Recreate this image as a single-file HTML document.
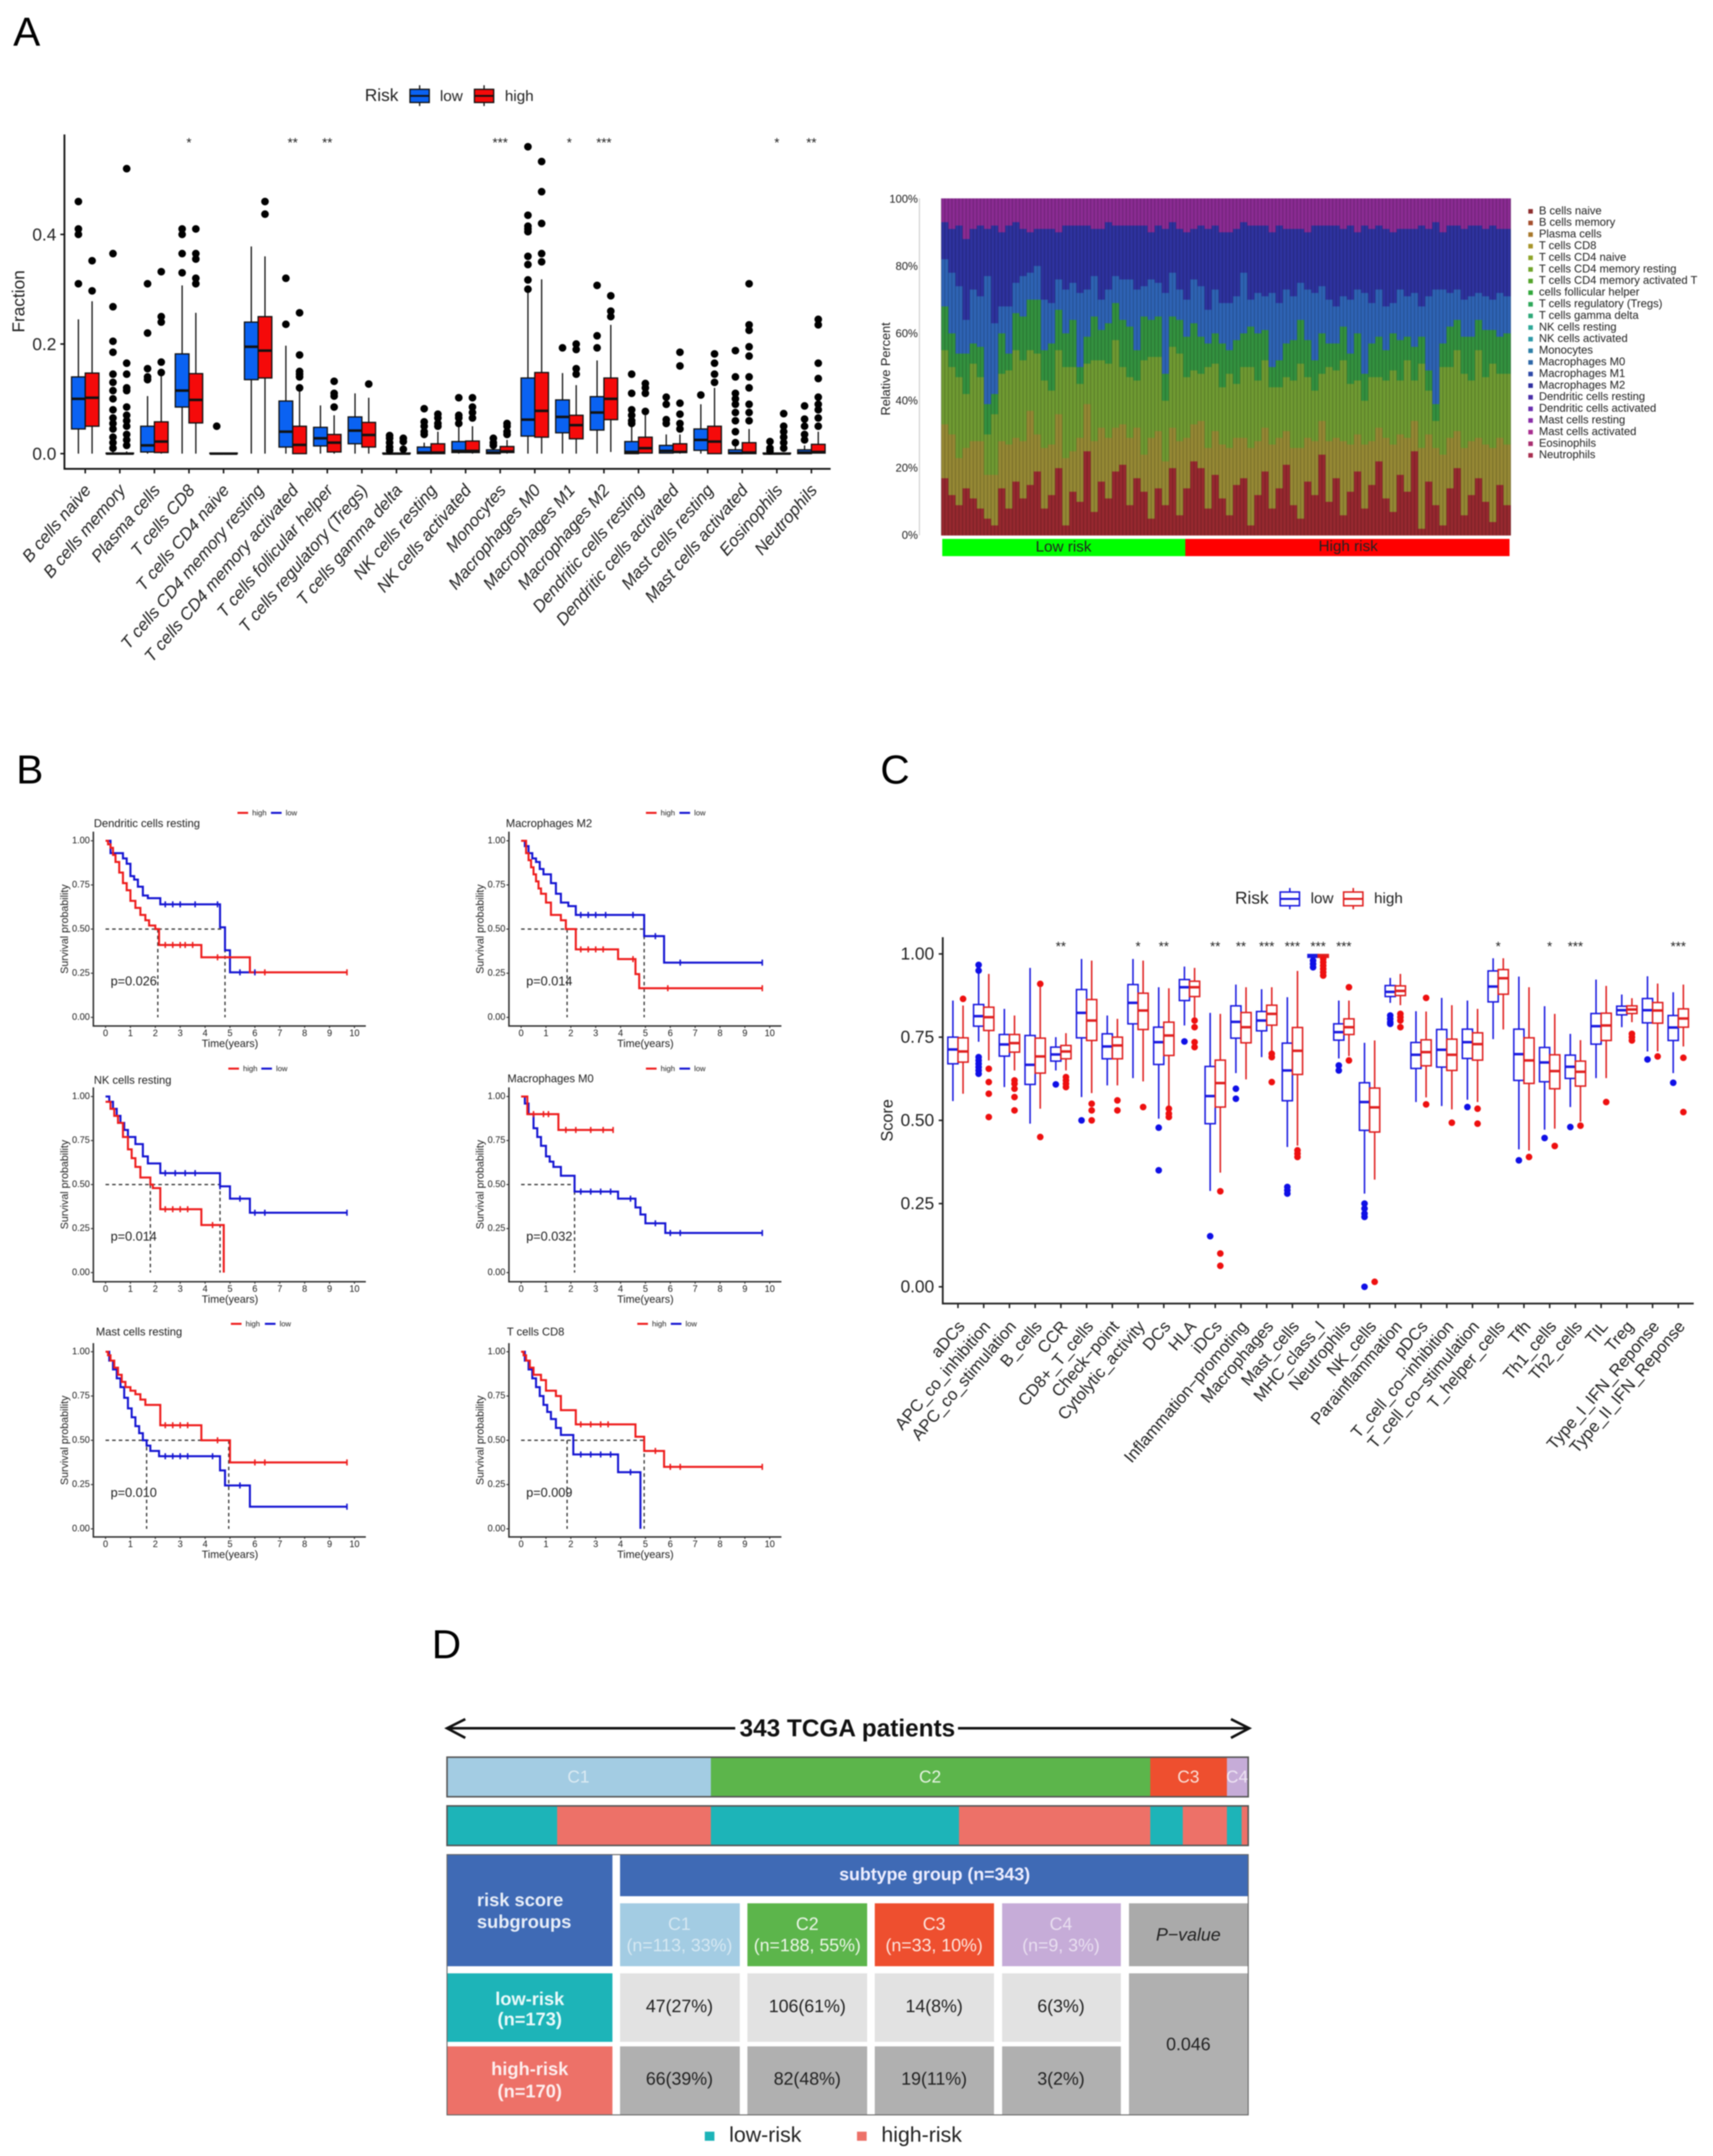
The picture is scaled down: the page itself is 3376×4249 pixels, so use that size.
<!DOCTYPE html>
<html lang="en">
<head>
<meta charset="utf-8">
<title>Immune infiltration and risk score figure</title>
<style>
html,body{margin:0;padding:0;background:#fff;}
#root{display:block;filter:blur(1.1px);}
text{font-family:"Liberation Sans",sans-serif;fill:#222;}
</style>
</head>
<body>
<svg id="root" xmlns="http://www.w3.org/2000/svg" width="3376" height="4249" viewBox="0 0 3376 4249">
<rect x="0" y="0" width="3376" height="4249" fill="#fff"/>
<text x="26" y="90" font-size="80" style="fill:#000">A</text>
<text x="32" y="1544" font-size="80" style="fill:#000">B</text>
<text x="1735" y="1544" font-size="80" style="fill:#000">C</text>
<text x="851" y="3268" font-size="80" style="fill:#000">D</text>

<g id="panelA"></g>
<g id="panelStack"></g>
<g id="panelB"></g>
<g id="panelC"></g>

<g id="panelD">
  <g fill="none" stroke="#111" stroke-width="5">
    <path d="M917 3388 L881 3406 L917 3425 M881 3406 L1449 3406"/>
    <path d="M2426 3388 L2462 3406 L2426 3425 M2462 3406 L1888 3406"/>
  </g>
  <text x="1670" y="3422" font-size="48" font-weight="bold" text-anchor="middle" style="fill:#111">343 TCGA patients</text>

  <g>
    <rect x="881" y="3463" width="520" height="78" fill="#a3cce3"/>
    <rect x="1401" y="3463" width="866" height="78" fill="#5cb54b"/>
    <rect x="2267" y="3463" width="151" height="78" fill="#ee4f2f"/>
    <rect x="2418" y="3463" width="42" height="78" fill="#c6acd8"/>
    <rect x="881" y="3463" width="1579" height="78" fill="none" stroke="#555" stroke-width="3"/>
    <g font-size="34" text-anchor="middle" dominant-baseline="middle">
      <text x="1140" y="3504" style="fill:#dcebf3">C1</text>
      <text x="1833" y="3504" style="fill:#e6f3e2">C2</text>
      <text x="2342" y="3504" style="fill:#fbe0d8">C3</text>
      <text x="2438" y="3504" style="fill:#eee4f3">C4</text>
    </g>
  </g>

  <g>
    <rect x="881" y="3559" width="217" height="78" fill="#1db4b8"/>
    <rect x="1098" y="3559" width="303" height="78" fill="#ed7168"/>
    <rect x="1401" y="3559" width="489" height="78" fill="#1db4b8"/>
    <rect x="1890" y="3559" width="377" height="78" fill="#ed7168"/>
    <rect x="2267" y="3559" width="64" height="78" fill="#1db4b8"/>
    <rect x="2331" y="3559" width="87" height="78" fill="#ed7168"/>
    <rect x="2418" y="3559" width="29" height="78" fill="#1db4b8"/>
    <rect x="2447" y="3559" width="13" height="78" fill="#ed7168"/>
    <rect x="881" y="3559" width="1579" height="78" fill="none" stroke="#555" stroke-width="3"/>
  </g>

  <g>
    <rect x="881" y="3655" width="326" height="220" fill="#3f6ab5"/>
    <rect x="1222" y="3655" width="1238" height="82" fill="#3f6ab5"/>
    <rect x="1222" y="3751" width="236" height="124" fill="#a3cce3"/>
    <rect x="1473" y="3751" width="236" height="124" fill="#5cb54b"/>
    <rect x="1724" y="3751" width="235" height="124" fill="#ee4f2f"/>
    <rect x="1975" y="3751" width="234" height="124" fill="#c6acd8"/>
    <rect x="2225" y="3751" width="235" height="124" fill="#aaaaaa"/>
    <rect x="881" y="3889" width="326" height="135" fill="#1db4b8"/>
    <rect x="881" y="4033" width="326" height="135" fill="#ed7168"/>
    <rect x="1222" y="3889" width="236" height="135" fill="#e2e2e2"/>
    <rect x="1473" y="3889" width="236" height="135" fill="#e2e2e2"/>
    <rect x="1724" y="3889" width="235" height="135" fill="#e2e2e2"/>
    <rect x="1975" y="3889" width="234" height="135" fill="#e2e2e2"/>
    <rect x="1222" y="4033" width="236" height="135" fill="#b0b0b0"/>
    <rect x="1473" y="4033" width="236" height="135" fill="#b0b0b0"/>
    <rect x="1724" y="4033" width="235" height="135" fill="#b0b0b0"/>
    <rect x="1975" y="4033" width="234" height="135" fill="#b0b0b0"/>
    <rect x="2225" y="3889" width="235" height="279" fill="#b0b0b0"/>
    <path d="M881 3655 H2460 V4168 H881 Z" fill="none" stroke="#666" stroke-width="2"/>

    <text x="1842" y="3696" font-size="35" font-weight="bold" text-anchor="middle" dominant-baseline="middle" style="fill:#eef">subtype group (n=343)</text>
    <text x="940" y="3747" font-size="36" font-weight="bold" dominant-baseline="middle" style="fill:#e8eef8">risk score</text>
    <text x="940" y="3790" font-size="36" font-weight="bold" dominant-baseline="middle" style="fill:#e8eef8">subgroups</text>

    <g font-size="35" text-anchor="middle" dominant-baseline="middle">
      <text x="1339" y="3794" style="fill:#d6e8f2">C1</text>
      <text x="1339" y="3836" style="fill:#d6e8f2">(n=113, 33%)</text>
      <text x="1591" y="3794" style="fill:#ecf6e8">C2</text>
      <text x="1591" y="3836" style="fill:#ecf6e8">(n=188, 55%)</text>
      <text x="1841" y="3794" style="fill:#fde6df">C3</text>
      <text x="1841" y="3836" style="fill:#fde6df">(n=33, 10%)</text>
      <text x="2091" y="3794" style="fill:#e9dff0">C4</text>
      <text x="2091" y="3836" style="fill:#e9dff0">(n=9, 3%)</text>
      <text x="2342" y="3815" font-style="italic" style="fill:#222">P−value</text>
    </g>
    <g font-size="36" font-weight="bold" text-anchor="middle" dominant-baseline="middle" style="fill:#fff">
      <text x="1044" y="3942" style="fill:#eafafa">low-risk</text>
      <text x="1044" y="3982" style="fill:#eafafa">(n=173)</text>
      <text x="1044" y="4080" style="fill:#fdeeee">high-risk</text>
      <text x="1044" y="4124" style="fill:#fdeeee">(n=170)</text>
    </g>
    <g font-size="35" text-anchor="middle" dominant-baseline="middle">
      <text x="1339" y="3956">47(27%)</text>
      <text x="1591" y="3956">106(61%)</text>
      <text x="1841" y="3956">14(8%)</text>
      <text x="2091" y="3956">6(3%)</text>
      <text x="1339" y="4099">66(39%)</text>
      <text x="1591" y="4099">82(48%)</text>
      <text x="1841" y="4099">19(11%)</text>
      <text x="2091" y="4099">3(2%)</text>
      <text x="2342" y="4031">0.046</text>
    </g>
  </g>

  <g>
    <rect x="1389" y="4201" width="19" height="18" fill="#1db4b8"/>
    <text x="1437" y="4210" font-size="42" dominant-baseline="middle">low-risk</text>
    <rect x="1689" y="4201" width="19" height="18" fill="#ed7168"/>
    <text x="1737" y="4210" font-size="42" dominant-baseline="middle">high-risk</text>
  </g>
</g>
</svg>

<script>
/* ---------- Panel A data ---------- */
const aCategories = ["B cells naive","B cells memory","Plasma cells","T cells CD8","T cells CD4 naive","T cells CD4 memory resting","T cells CD4 memory activated","T cells follicular helper","T cells regulatory (Tregs)","T cells gamma delta","NK cells resting","NK cells activated","Monocytes","Macrophages M0","Macrophages M1","Macrophages M2","Dendritic cells resting","Dendritic cells activated","Mast cells resting","Mast cells activated","Eosinophils","Neutrophils"];
const aTicks = [0, 0.2, 0.4];
/* [lower whisker, q1, median, q3, upper whisker] */
const aLowStats = [[0,.045,.10,.14,.245],[0,0,0,.001,.004],[0,.003,.015,.05,.105],[0,.085,.115,.182,.307],[0,0,0,.001,.001],[0,.135,.195,.24,.378],[0,.012,.04,.096,.197],[0,.014,.028,.048,.088],[0,.018,.042,.067,.11],[0,0,0,.001,.002],[0,0,.002,.012,.02],[0,.002,.005,.022,.05],[0,0,.002,.007,.012],[0,.032,.062,.138,.295],[0,.038,.067,.098,.147],[0,.043,.075,.104,.17],[0,0,.003,.022,.05],[0,.001,.005,.015,.035],[0,.006,.025,.045,.09],[0,0,.001,.007,.015],[0,0,0,.001,.002],[0,0,.002,.007,.015]];
const aHighStats = [[0,.05,.102,.147,.278],[0,0,0,.001,.004],[0,.002,.022,.058,.145],[0,.056,.098,.146,.257],[0,0,0,.001,.001],[0,.138,.188,.25,.36],[0,0,.016,.05,.12],[0,.003,.02,.035,.07],[0,.012,.034,.057,.102],[0,0,0,.001,.002],[0,0,.002,.018,.04],[0,.002,.005,.023,.05],[0,.002,.004,.013,.025],[0,.03,.078,.148,.318],[0,.027,.052,.07,.125],[.003,.062,.10,.138,.235],[0,.001,.01,.03,.07],[0,.002,.003,.018,.035],[0,0,.022,.05,.12],[0,0,.002,.02,.045],[0,0,0,.001,.002],[0,.001,.003,.017,.04]];
const aLowOutliers = [[.31,.40,.41,.46],[.365,.268,.205,.185,.145,.13,.115,.10,.08,.065,.055,.045,.03,.02,.01],[.31,.22,.155,.14,.135],[.41,.40,.365,.33],[.05],[],[.32,.236],[],[],[.033,.028,.02,.012,.006],[.082,.058,.05,.04,.035],[.102,.07,.065,.055],[.028,.02,.015],[.56,.435,.415,.41,.405,.36,.345,.317,.30],[.193],[.307,.215,.193],[.145,.11,.08,.07,.06,.055],[.103,.09,.062,.055],[.107],[.188,.14,.11,.1,.09,.075,.06,.04,.02],[.022,.01,.005],[.087,.063,.05,.035,.025]];
const aHighOutliers = [[.297,.352],[.52,.165,.145,.12,.115,.085,.07,.06,.05,.035,.025,.015],[.332,.25,.24,.167,.148],[.41,.365,.355,.32,.31],[],[.46,.437],[.257,.18,.15,.145,.14,.12],[.132,.11,.105,.085],[.127],[.028,.022,.008],[.072,.065,.055,.05],[.102,.085,.075,.065],[.055,.05,.04,.035],[.533,.478,.42,.365,.35],[.2,.19,.155,.145],[.288,.26,.25],[.128,.12,.11,.077],[.185,.16,.092,.072,.055,.045],[.182,.165,.145,.13],[.31,.235,.225,.195,.178,.14,.12,.09,.075,.06],[.073,.05,.04,.03,.02,.01],[.245,.235,.165,.137,.103,.09,.08,.065,.05]];
const aStars = ["","","","*","","","**","**","","","","","***","","*","***","","","","","*","**"];

/* ---------- Stacked bar data (percent per band, one entry per bar) ---------- */
const stackTicks = [0,20,40,60,80,100];
const stackLegend = ["B cells naive","B cells memory","Plasma cells","T cells CD8","T cells CD4 naive","T cells CD4 memory resting","T cells CD4 memory activated T","cells follicular helper","T cells regulatory (Tregs)","T cells gamma delta","NK cells resting","NK cells activated","Monocytes","Macrophages M0","Macrophages M1","Macrophages M2","Dendritic cells resting","Dendritic cells activated","Mast cells resting","Mast cells activated","Eosinophils","Neutrophils"];
const stackRed = [17,12,9,14,11,8,5,3,14,8,16,11,15,19,8,12,20,3,13,10,25,7,16,11,19,21,9,17,13,5,14,9,20,6,14,22,20,8,18,11,6,15,17,3,12,19,8,14,21,9,5,16,12,24,10,17,6,13,19,8,15,22,11,7,18,13,25,2,16,9,3,14,20,6,12,17,10,4,15,9];
const stackOlive = [16,18,14,12,17,20,13,15,14,19,13,17,22,11,18,15,16,20,12,19,14,21,16,18,13,12,20,15,11,24,17,13,12,22,15,11,14,18,13,16,20,14,12,23,16,13,19,15,10,17,21,13,16,10,18,12,22,14,11,19,13,10,18,20,12,16,9,24,14,17,21,15,11,20,16,12,17,22,14,18];
const stackLime = [22,20,24,16,23,19,12,18,20,22,26,24,18,24,20,16,19,27,25,16,12,24,20,22,26,17,18,14,28,24,22,18,24,26,18,16,14,24,20,17,22,16,21,24,18,20,17,15,16,20,25,18,15,14,22,20,24,18,16,13,19,15,17,22,16,23,12,25,13,8,26,21,24,22,18,26,20,25,19,21];
const stackGreen = [13,10,7,12,6,9,9,6,12,5,11,13,15,16,9,14,12,10,14,5,8,13,9,12,11,14,15,9,13,11,12,8,9,10,12,14,11,7,9,13,7,13,10,12,14,9,6,8,10,12,13,11,9,12,7,8,10,9,14,8,10,12,9,11,12,7,10,8,6,5,7,12,9,11,13,9,14,10,11,12];
const stackBlue = [14,18,20,10,16,15,38,21,8,14,9,12,8,10,15,12,9,13,11,22,14,12,9,10,8,12,14,18,9,12,10,24,13,9,11,13,15,10,13,12,14,13,18,8,12,10,22,17,16,13,11,15,20,14,13,11,9,16,13,24,12,14,13,9,15,12,16,9,22,34,16,10,9,11,12,8,10,9,13,11];
const stackNavy = [11,13,18,24,18,21,14,29,22,24,18,14,12,11,21,22,14,19,17,20,19,14,21,20,15,16,16,19,18,14,17,19,15,18,20,15,18,24,19,21,21,20,15,22,20,21,18,23,18,20,16,17,20,18,22,24,20,22,17,20,22,19,23,21,18,20,19,24,20,20,17,20,19,21,21,20,20,22,19,20];

/* ---------- Panel B data: [time, survival] ---------- */
const dcHigh = [[0,1],[.1,.98],[.2,.96],[.3,.92],[.4,.88],[.55,.82],[.7,.76],[.85,.72],[1,.66],[1.2,.62],[1.4,.58],[1.6,.55],[1.75,.52],[2,.50],[2.15,.41],[3.85,.34],[5.8,.255],[9.7,.255]];
const dcLow = [[0,1],[.2,.93],[.7,.9],[.85,.87],[1,.8],[1.15,.78],[1.3,.74],[1.5,.69],[1.7,.675],[2.2,.64],[4.6,.51],[4.8,.38],[5,.255],[6,.255]];
const m2High = [[0,1],[.2,.93],[.3,.89],[.4,.85],[.5,.81],[.6,.77],[.7,.73],[.8,.70],[1,.65],[1.2,.58],[1.6,.55],[1.8,.5],[2.2,.385],[3.9,.33],[4.6,.245],[4.75,.165],[9.7,.165]];
const m2Low = [[0,1],[.15,.97],[.3,.93],[.45,.9],[.6,.88],[.75,.84],[.9,.81],[1.2,.76],[1.4,.7],[1.6,.65],[1.9,.63],[2.2,.58],[4.95,.46],[5.75,.31],[9.7,.31]];
const nkHigh = [[0,.97],[.2,.93],[.35,.89],[.5,.85],[.7,.77],[.9,.7],[1.05,.65],[1.2,.6],[1.4,.54],[1.8,.5],[1.9,.48],[2.2,.36],[3.85,.27],[4.75,0]];
const nkLow = [[0,1],[.15,.97],[.3,.93],[.45,.89],[.6,.85],[.75,.81],[.9,.77],[1.2,.73],[1.5,.66],[1.7,.62],[2.2,.565],[4.6,.49],[5,.42],[5.8,.34],[9.7,.34]];
const m0High = [[0,1],[.25,.9],[1.5,.81],[3.7,.81]];
const m0Low = [[0,1],[.15,.96],[.3,.9],[.5,.82],[.65,.77],[.8,.72],[1,.66],[1.15,.63],[1.3,.6],[1.6,.55],[2.15,.46],[3.9,.42],[4.6,.37],[4.8,.33],[5,.28],[5.8,.225],[9.7,.225]];
const mastHigh = [[0,1],[.1,.98],[.2,.95],[.35,.91],[.5,.87],[.65,.83],[.8,.8],[1,.78],[1.2,.76],[1.4,.73],[1.6,.7],[2.2,.585],[3.85,.5],[5,.375],[9.7,.375]];
const mastLow = [[0,1],[.15,.95],[.3,.9],[.45,.85],[.6,.8],[.75,.74],[.9,.68],[1.05,.63],[1.2,.58],[1.35,.54],[1.5,.5],[1.65,.47],[1.8,.44],[2.15,.41],[4.6,.33],[4.8,.245],[5.8,.125],[9.7,.125]];
const cd8High = [[0,1],[.1,.98],[.2,.95],[.35,.91],[.5,.87],[.8,.84],[1,.78],[1.4,.75],[1.6,.67],[2.2,.59],[4.6,.52],[4.95,.44],[5.75,.35],[9.7,.35]];
const cd8Low = [[0,1],[.15,.95],[.3,.9],[.45,.85],[.6,.8],[.75,.75],[.9,.7],[1.05,.66],[1.2,.62],[1.4,.57],[1.6,.53],[2.1,.42],[3.9,.32],[4.8,0]];
const kmTitles = ["Dendritic cells resting","Macrophages M2","NK cells resting","Macrophages M0","Mast cells resting","T cells CD8"];
const kmPvalues = ["p=0.026","p=0.014","p=0.014","p=0.032","p=0.010","p=0.009"];
const kmHighSeries = [dcHigh,m2High,nkHigh,m0High,mastHigh,cd8High];
const kmLowSeries = [dcLow,m2Low,nkLow,m0Low,mastLow,cd8Low];
const kmMedians = [[2.1,4.8],[1.85,4.95],[1.8,4.6],[2.15],[1.65,4.95],[1.85,4.95]];
const kmHighCensor = [[2.4,2.7,3,3.2,3.5,4.5,6.4,9.7],[2.4,2.7,3,3.3,4.5,5.9,9.7],[2.4,2.7,3,3.3,4.3],[.5,.9,1.1,1.8,2.2,2.8,3.3,3.7],[2.4,2.7,3,3.3,4.5,6,6.4,9.7],[2.4,2.8,3.2,3.5,5.4,6,6.4,9.7]];
const kmLowCensor = [[2.4,2.7,3,3.6,4.5,5.4,6],[2.4,2.7,3,3.4,4.5,5.4,6.4,9.7],[2.4,2.8,3.2,3.6,4.6,5.4,6,6.4,9.7],[2.4,2.8,3.2,3.6,4.4,5.4,6,6.4,9.7],[2.4,2.7,3,3.3,4.3,5.4,9.7],[2.4,2.8,3.2,3.6,4.4]];
const kmXTicks = [0,1,2,3,4,5,6,7,8,9,10];
const kmYTicks = [0,.25,.5,.75,1];

/* ---------- Panel C data ---------- */
const cCategories = ["aDCs","APC_co_inhibition","APC_co_stimulation","B_cells","CCR","CD8+_T_cells","Check-point","Cytolytic_activity","DCs","HLA","iDCs","Inflammation-promoting","Macrophages","Mast_cells","MHC_class_I","Neutrophils","NK_cells","Parainflammation","pDCs","T_cell_co-inhibition","T_cell_co-stimulation","T_helper_cells","Tfh","Th1_cells","Th2_cells","TIL","Treg","Type_I_IFN_Reponse","Type_II_IFN_Reponse"];
const cTicks = [0,.25,.5,.75,1];
const cLowStats = [[.558,.67,.713,.75,.86],[.736,.783,.813,.848,.955],[.6,.693,.728,.758,.835],[.49,.608,.667,.755,.958],[.65,.678,.698,.72,.75],[.57,.748,.823,.893,.985],[.605,.685,.722,.76,.815],[.627,.79,.853,.908,.985],[.505,.668,.735,.78,.90],[.785,.86,.90,.923,.962],[.288,.49,.573,.662,.823],[.642,.747,.796,.844,.908],[.69,.769,.80,.827,.894],[.42,.559,.65,.732,.87],[.985,.99,.995,.998,1],[.686,.741,.765,.79,.86],[.28,.47,.555,.613,.733],[.853,.872,.886,.905,.928],[.555,.656,.697,.734,.828],[.543,.66,.712,.773,.868],[.562,.686,.735,.774,.86],[.744,.856,.902,.949,.987],[.413,.62,.699,.774,.932],[.472,.616,.674,.719,.843],[.54,.626,.661,.696,.76],[.627,.729,.783,.821,.923],[.78,.817,.831,.843,.878],[.707,.793,.831,.866,.933],[.642,.74,.779,.815,.885]];
const cHighStats = [[.58,.675,.707,.748,.845],[.68,.77,.81,.84,.94],[.65,.705,.732,.758,.815],[.535,.642,.692,.747,.90],[.65,.685,.707,.725,.762],[.582,.74,.80,.863,.98],[.605,.685,.725,.75,.805],[.617,.773,.83,.882,.98],[.545,.695,.755,.795,.897],[.81,.872,.90,.918,.958],[.343,.54,.612,.681,.82],[.623,.733,.78,.824,.90],[.707,.786,.82,.846,.90],[.424,.638,.709,.779,.949],[.985,.99,.995,.998,1],[.693,.758,.78,.805,.86],[.322,.465,.539,.597,.74],[.846,.875,.889,.904,.94],[.569,.664,.705,.742,.827],[.533,.65,.697,.744,.846],[.555,.681,.729,.763,.835],[.773,.879,.927,.953,.987],[.409,.611,.68,.748,.90],[.475,.595,.648,.697,.82],[.496,.603,.646,.678,.741],[.627,.74,.785,.822,.904],[.795,.821,.833,.844,.867],[.707,.792,.83,.854,.911],[.722,.78,.806,.835,.908]];
const cLowOutliers = [[],[.967,.95,.69,.68,.67,.66,.65,.64],[],[],[.608],[.5],[],[],[.478,.35],[.737],[.152],[.595,.565],[],[.3,.29,.28],[.98,.97,.96],[.665,.65],[.25,.235,.22,.21,0],[.815,.805,.795,.79],[],[],[.54],[],[.38],[.447],[.48],[],[],[.683],[.613]];
const cHighOutliers = [[.865],[.655,.615,.58,.51],[.62,.61,.595,.57,.53],[.91,.45],[.63,.62,.61,.60],[.55,.53,.5],[.56,.53],[.54],[.535,.52,.51],[.8,.78,.735,.72],[.287,.1,.063],[],[.70,.69,.615],[.41,.40,.39],[.985,.975,.965,.955,.945,.935],[.9,.68],[.015],[.82,.81,.8,.78],[.868,.548],[.493],[.535,.49],[],[.39],[.423],[.484],[.555],[.76,.75,.74],[.692],[.688,.525]];
const cStars = ["","","","","**","","","*","**","","**","**","***","***","***","***","","","","","","*","","*","***","","","","***"];

/* ---------- Drawing helpers ---------- */
const NS = 'http://www.w3.org/2000/svg';
function el(tag, attrs, parent) {
  const e = document.createElementNS(NS, tag);
  for (const k in attrs) e.setAttribute(k, attrs[k]);
  parent.appendChild(e);
  return e;
}
function txt(parent, x, y, s, size, attrs) {
  const e = el('text', Object.assign({x:x, y:y, 'font-size':size}, attrs || {}), parent);
  e.textContent = s;
  return e;
}
function drawBoxes(g, stats, outliers, xOf, yOf, offset, bw, stroke, fill, medW, boxW, r, ptColor) {
  stats.forEach(function (s, i) {
    const cx = xOf(i) + offset;
    const whisker = el('line', {x1:cx, x2:cx, y1:yOf(s[0]), y2:yOf(s[4]), stroke:stroke, 'stroke-width':boxW}, g);
    
    
    const box = el('rect', {x:cx-bw/2, y:yOf(s[3]), width:bw, height:Math.max(yOf(s[1])-yOf(s[3]),0.5), fill:fill, stroke:stroke, 'stroke-width':boxW}, g);
    
    
    const med = el('line', {x1:cx-bw/2, x2:cx+bw/2, y1:yOf(s[2]), y2:yOf(s[2]), stroke:stroke, 'stroke-width':medW}, g);
    
    
    outliers[i].forEach(function (v) {
      const p = el('circle', {cx:cx, cy:yOf(v), r:r, fill:ptColor}, g);
      
      
    });
  });
}
function drawLegendKey(g, cx, top, bottom, wt, wb, w, fill, stroke, sw) {
  const w1 = el('line', {x1:cx, x2:cx, y1:wt, y2:wb, stroke:stroke, 'stroke-width':sw}, g);
  
  
  const r1 = el('rect', {x:cx-w/2, y:top, width:w, height:bottom-top, fill:fill, stroke:stroke, 'stroke-width':sw}, g);
  
  
  const m1 = el('line', {x1:cx-w/2, x2:cx+w/2, y1:(top+bottom)/2, y2:(top+bottom)/2, stroke:stroke, 'stroke-width':sw+1}, g);
  
  
}

/* ---------- Panel A ---------- */
(function () {
  const g = document.getElementById('panelA');
  const xOf = function (i) { return 168 + i * 68.15; };
  const yOf = function (v) { return 894 - v * 1080; };
  drawBoxes(g, aLowStats, aLowOutliers, xOf, yOf, -13.5, 27, '#111', '#0a62f2', 5, 2.5, 7.5, '#000');
  drawBoxes(g, aHighStats, aHighOutliers, xOf, yOf, 13.5, 27, '#111', '#f50a0a', 5, 2.5, 7.5, '#000');
  const axis = el('path', {d:'M127 265 V924 H1637', fill:'none', stroke:'#111', 'stroke-width':3.5}, g);
  
  
  aTicks.forEach(function (t) {
    const m = el('line', {x1:119, x2:127, y1:yOf(t), y2:yOf(t), stroke:'#111', 'stroke-width':3}, g);
    
    
    const l = txt(g, 111, yOf(t) + 3, t.toFixed(1), 34, {'text-anchor':'end','dominant-baseline':'middle'});
    
    
  });
  aCategories.forEach(function (c, i) {
    const m = el('line', {x1:xOf(i), x2:xOf(i), y1:924, y2:933, stroke:'#111', 'stroke-width':3}, g);
    
    
    const x = xOf(i) + 13, y = 967;
    const l = txt(g, x, y, c, 33.5, {'text-anchor':'end','font-style':'italic',transform:'rotate(-49.5 '+x+' '+y+')'});
    
    
    if (aStars[i]) {
      const s = txt(g, xOf(i), 290, aStars[i], 26, {'text-anchor':'middle'});
      
      
    }
  });
  const yt = txt(g, 48, 594, 'Fraction', 34, {'text-anchor':'middle',transform:'rotate(-90 48 594)'});
  
  
  const risk = txt(g, 719, 190, 'Risk', 34, {'dominant-baseline':'middle'});
  
  
  drawLegendKey(g, 827, 176, 202, 168, 209, 38, '#0a62f2', '#111', 2.5);
  drawLegendKey(g, 954, 176, 202, 168, 209, 38, '#f50a0a', '#111', 2.5);
  const lo = txt(g, 867, 191, 'low', 30, {'dominant-baseline':'middle'});
  
  
  const hi = txt(g, 995, 191, 'high', 30, {'dominant-baseline':'middle'});
  
  
})();

/* ---------- Stacked bars ---------- */
(function () {
  const g = document.getElementById('panelStack');
  const left = 1855, right = 2977, top = 391, bottom = 1055;
  const n = stackRed.length, bw = (right - left) / n;
  const xOf = function (i) { return left + i * bw; };
  const yOf = function (p) { return bottom - (bottom - top) * p / 100; };
  const bands = [stackRed, stackOlive, stackLime, stackGreen, stackBlue, stackNavy];
  const colors = ['#96282f', '#958834', '#6f9a32', '#33913f', '#2e63b4', '#2e329e', '#8a2b92'];
  for (let i = 0; i < n; i++) {
    let acc = 0;
    bands.forEach(function (b, k) {
      const r = el('rect', {x:xOf(i), y:yOf(acc + b[i]), width:bw + 0.6, height:yOf(acc) - yOf(acc + b[i]) + 0.4, fill:colors[k]}, g);
      
      
      acc += b[i];
    });
    const r2 = el('rect', {x:xOf(i), y:yOf(100), width:bw + 0.6, height:yOf(acc) - yOf(100) + 0.4, fill:colors[6]}, g);
    
    
  }
  for (let s = 0; s <= n * 2; s++) {
    const sep = el('line', {x1:left + s * bw / 2, x2:left + s * bw / 2, y1:top, y2:bottom, stroke:'#000', 'stroke-opacity':0.22, 'stroke-width':1.6}, g);
    
    
  }
  const ax = el('line', {x1:1812, x2:1812, y1:top, y2:bottom, stroke:'#ccc', 'stroke-width':2}, g);
  
  
  stackTicks.forEach(function (t) {
    const l = txt(g, 1809, bottom + 1 + (393.5 - bottom - 1) * t / 100, t + '%', 22, {'text-anchor':'end','dominant-baseline':'middle'});
    
    
  });
  const yt = txt(g, 1754, 727, 'Relative Percent', 25, {'text-anchor':'middle',transform:'rotate(-90 1754 727)'});
  
  
  const lowBar = el('rect', {x:1857, y:1062, width:479, height:34, fill:'#00ff00'}, g);
  
  
  const highBar = el('rect', {x:2336, y:1062, width:639, height:34, fill:'#ff0000'}, g);
  
  
  const lr = txt(g, 2096, 1079, 'Low risk', 30, {'text-anchor':'middle','dominant-baseline':'middle'});
  
  
  const hr = txt(g, 2657, 1078, 'High risk', 30, {'text-anchor':'middle','dominant-baseline':'middle'});
  
  
  const swatch = ['#8e2f2f','#a5502f','#a8782b','#a8952a','#8fa52a','#72a52c','#55a52c','#33a83c','#2fa85a','#2fa878','#2fa898','#2f9aa8','#2f80a8','#2f68a8','#2f4aa8','#2f30a0','#4a2fa8','#6a2fb0','#8a2fa8','#a82f90','#a82f70','#a82f50'];
  stackLegend.forEach(function (s, i) {
    const y = 416.5 + i * 22.9;
    const m = el('rect', {x:3012, y:y-4.5, width:9, height:9, fill:swatch[i]}, g);
    
    
    const l = txt(g, 3033, y, s, 22, {'dominant-baseline':'middle'});
    
    
  });
})();

/* ---------- Survival curves ---------- */
(function () {
  const root = document.getElementById('panelB');
  const cols = [{x0:208, x10:698.5, axis:184, end:721}, {x0:1027, x10:1517, axis:1003, end:1540}];
  const rows = [{y1:1657, y0:2005, axisB:2022, top:1639, leg:1602}, {y1:2161, y0:2508, axisB:2526, top:2143, leg:2106}, {y1:2664, y0:3013, axisB:3029, top:2647, leg:2609}];
  const titlePlacement = [[185,1624],[997,1624],[185,2130],[1000,2127],[189,2626],[999,2626]];
  const legendOffsets = [[468,534],[1273,1339],[450,515],[1273,1339],[455,522],[1256,1322]];
  function stepPath(pts, xOf, yOf) {
    let d = 'M' + xOf(pts[0][0]) + ' ' + yOf(pts[0][1]);
    for (let i = 1; i < pts.length; i++) {
      d += ' H' + xOf(pts[i][0]) + ' V' + yOf(pts[i][1]);
    }
    return d;
  }
  function survAt(pts, t) {
    let s = pts[0][1];
    for (let i = 0; i < pts.length; i++) { if (pts[i][0] <= t) s = pts[i][1]; }
    return s;
  }
  kmTitles.forEach(function (title, i) {
    const c = cols[i % 2], r = rows[Math.floor(i / 2)];
    const g = el('g', {}, root);
    
    
    const xOf = function (t) { return c.x0 + t * (c.x10 - c.x0) / 10; };
    const yOf = function (s) { return r.y0 - s * (r.y0 - r.y1); };
    const axis = el('path', {d:'M'+c.axis+' '+r.top+' V'+r.axisB+' H'+c.end, fill:'none', stroke:'#333', 'stroke-width':3}, g);
    
    
    kmYTicks.forEach(function (t) {
      const m = el('line', {x1:c.axis-5, x2:c.axis, y1:yOf(t), y2:yOf(t), stroke:'#333', 'stroke-width':2}, g);
      
      
      const l = txt(g, c.axis-7, yOf(t), t.toFixed(2), 18, {'text-anchor':'end','dominant-baseline':'middle'});
      
      
    });
    kmXTicks.forEach(function (t) {
      const m = el('line', {x1:xOf(t), x2:xOf(t), y1:r.axisB, y2:r.axisB+4, stroke:'#333', 'stroke-width':2}, g);
      
      
      const l = txt(g, xOf(t), r.axisB+15, String(t), 18, {'text-anchor':'middle','dominant-baseline':'middle'});
      
      
    });
    const xt = txt(g, xOf(5), r.axisB+36, 'Time(years)', 21, {'text-anchor':'middle','dominant-baseline':'middle'});
    
    
    const yx = c.axis - 50, yy = (r.y0 + r.y1) / 2;
    const yt = txt(g, yx, yy, 'Survival probability', 21, {'text-anchor':'middle',transform:'rotate(-90 '+yx+' '+yy+')'});
    
    
    const tp = titlePlacement[i];
    const tt = txt(g, tp[0], tp[1], title, 22, {'dominant-baseline':'middle'});
    
    
    const p = txt(g, xOf(0)+10, yOf(0.2), kmPvalues[i], 25, {'dominant-baseline':'middle'});
    
    
    const meds = kmMedians[i];
    const hline = el('line', {x1:xOf(0), x2:xOf(meds[meds.length-1]), y1:yOf(.5), y2:yOf(.5), stroke:'#333', 'stroke-width':2.5, 'stroke-dasharray':'7 6'}, g);
    
    
    meds.forEach(function (t) {
      const v = el('line', {x1:xOf(t), x2:xOf(t), y1:yOf(.5), y2:yOf(0), stroke:'#333', 'stroke-width':2.5, 'stroke-dasharray':'7 6'}, g);
      
      
    });
    const lowCurve = el('path', {d:stepPath(kmLowSeries[i], xOf, yOf), fill:'none', stroke:'#1414d2', 'stroke-width':4}, g);
    
    
    const highCurve = el('path', {d:stepPath(kmHighSeries[i], xOf, yOf), fill:'none', stroke:'#ee1c1c', 'stroke-width':4}, g);
    
    
    kmLowCensor[i].forEach(function (t) {
      const m = el('line', {x1:xOf(t), x2:xOf(t), y1:yOf(survAt(kmLowSeries[i], t))-6, y2:yOf(survAt(kmLowSeries[i], t))+6, stroke:'#1414d2', 'stroke-width':3}, g);
      
      
    });
    kmHighCensor[i].forEach(function (t) {
      const m = el('line', {x1:xOf(t), x2:xOf(t), y1:yOf(survAt(kmHighSeries[i], t))-6, y2:yOf(survAt(kmHighSeries[i], t))+6, stroke:'#ee1c1c', 'stroke-width':3}, g);
      
      
    });
    const off = legendOffsets[i];
    const lh = el('line', {x1:off[0], x2:off[0]+21, y1:r.leg, y2:r.leg, stroke:'#ee1c1c', 'stroke-width':4}, g);
    
    
    const th = txt(g, off[0]+29, r.leg+1, 'high', 15, {'dominant-baseline':'middle'});
    
    
    const ll = el('line', {x1:off[1], x2:off[1]+21, y1:r.leg, y2:r.leg, stroke:'#1414d2', 'stroke-width':4}, g);
    
    
    const tl = txt(g, off[1]+29, r.leg+1, 'low', 15, {'dominant-baseline':'middle'});
    
    
  });
})();

/* ---------- Panel C ---------- */
(function () {
  const g = document.getElementById('panelC');
  const xOf = function (i) { return 1888 + i * 50.7; };
  const yOf = function (v) { return 2536 - v * 656; };
  drawBoxes(g, cLowStats, cLowOutliers, xOf, yOf, -10, 20, '#1a1ae0', '#fff', 5, 3, 6.5, '#1010e6');
  drawBoxes(g, cHighStats, cHighOutliers, xOf, yOf, 10, 20, '#e02020', '#fff', 5, 3, 6.5, '#ee1010');
  const axis = el('path', {d:'M1858 1847 V2569 H3338', fill:'none', stroke:'#222', 'stroke-width':3.5}, g);
  
  
  cTicks.forEach(function (t) {
    const m = el('line', {x1:1850, x2:1858, y1:yOf(t), y2:yOf(t), stroke:'#222', 'stroke-width':3}, g);
    
    
    const l = txt(g, 1841, yOf(t) + 2, t.toFixed(2), 34, {'text-anchor':'end','dominant-baseline':'middle'});
    
    
  });
  cCategories.forEach(function (c, i) {
    const m = el('line', {x1:xOf(i), x2:xOf(i), y1:2569, y2:2578, stroke:'#222', 'stroke-width':3}, g);
    
    
    const x = xOf(i) + 15, y = 2615;
    const l = txt(g, x, y, c.replace(/-/g, '\u2212'), 33, {'text-anchor':'end',transform:'rotate(-49.5 '+x+' '+y+')'});
    
    
    if (cStars[i]) {
      const s = txt(g, xOf(i), 1874, cStars[i], 26, {'text-anchor':'middle'});
      
      
    }
  });
  const yt = txt(g, 1759, 2208, 'Score', 32, {'text-anchor':'middle',transform:'rotate(-90 1759 2208)'});
  
  
  const risk = txt(g, 2434, 1772, 'Risk', 34, {'dominant-baseline':'middle'});
  
  
  drawLegendKey(g, 2542, 1758, 1785, 1750, 1792, 38, '#fff', '#1a1ae0', 3);
  drawLegendKey(g, 2667, 1758, 1785, 1750, 1792, 38, '#fff', '#e02020', 3);
  const lo = txt(g, 2583, 1772, 'low', 30, {'dominant-baseline':'middle'});
  
  
  const hi = txt(g, 2708, 1772, 'high', 30, {'dominant-baseline':'middle'});
  
  
})();
</script>
</body>
</html>
